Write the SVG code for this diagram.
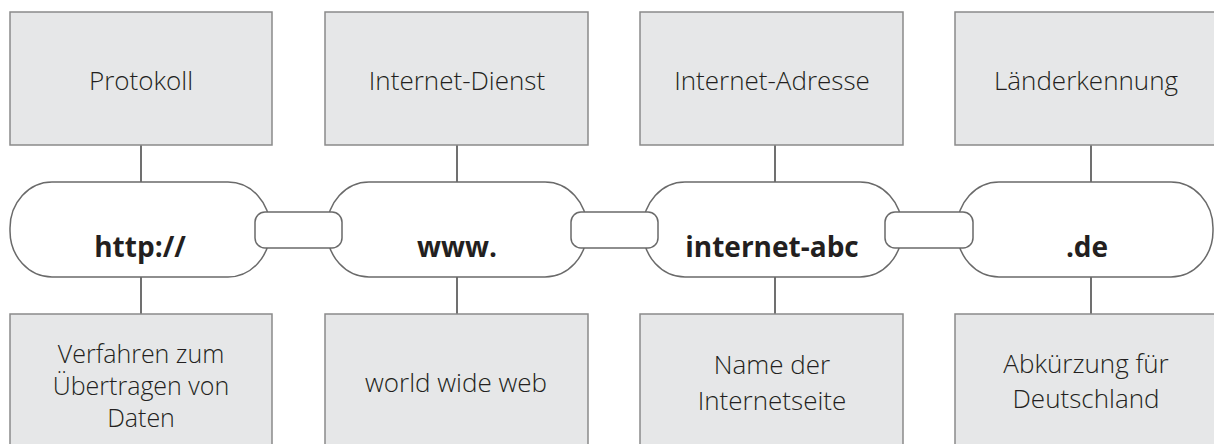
<svg xmlns="http://www.w3.org/2000/svg" width="1214" height="444" viewBox="0 0 1214 444">
<style>
.box{fill:#e6e7e8;stroke:#8a8a8a;stroke-width:1.5}
.pill{fill:#fff;stroke:#6a6a6a;stroke-width:1.5}
.link{fill:#fff;stroke:#6a6a6a;stroke-width:1.5}
.ln{stroke:#707070;stroke-width:2;fill:none}
.t{font-family:"Open Sans","Liberation Sans",sans-serif;font-size:26px;font-weight:300;fill:#231f20;text-anchor:middle}
.s{font-size:25px}
.b{font-family:"Open Sans","Liberation Sans",sans-serif;font-size:28px;font-weight:bold;fill:#231f20;text-anchor:middle}
</style>
<rect width="1214" height="444" fill="#fff"/>
<g id="connectors">
<line class="ln" x1="141" y1="145" x2="141" y2="182"/>
<line class="ln" x1="141" y1="277" x2="141" y2="314"/>
<line class="ln" x1="457" y1="145" x2="457" y2="182"/>
<line class="ln" x1="457" y1="277" x2="457" y2="314"/>
<line class="ln" x1="775" y1="145" x2="775" y2="182"/>
<line class="ln" x1="775" y1="277" x2="775" y2="314"/>
<line class="ln" x1="1091" y1="145" x2="1091" y2="182"/>
<line class="ln" x1="1091" y1="277" x2="1091" y2="314"/>
</g>
<g id="top1"><rect class="box" x="10" y="12" width="262" height="133"/><text class="t" x="141" y="90">Protokoll</text></g>
<g id="top2"><rect class="box" x="325" y="12" width="263" height="133"/><text class="t" x="457" y="90">Internet-Dienst</text></g>
<g id="top3"><rect class="box" x="640" y="12" width="263" height="133"/><text class="t" x="772" y="90">Internet-Adresse</text></g>
<g id="top4"><rect class="box" x="955" y="12" width="270" height="133"/><text class="t" x="1086" y="90">Länderkennung</text></g>
<g id="pill1"><rect class="pill" x="10" y="182" width="260" height="95" rx="42" ry="46"/><text class="b" x="140" y="257">http://</text></g>
<g id="pill2"><rect class="pill" x="327" y="182" width="260" height="95" rx="42" ry="46"/><text class="b" x="457" y="257">www.</text></g>
<g id="pill3"><rect class="pill" x="643" y="182" width="259" height="95" rx="42" ry="46"/><text class="b" x="772" y="257">internet-abc</text></g>
<g id="pill4"><rect class="pill" x="957" y="182" width="256" height="95" rx="42" ry="46"/><text class="b" x="1087" y="257">.de</text></g>
<g id="link1"><rect class="link" x="255" y="212" width="87" height="36" rx="10"/></g>
<g id="link2"><rect class="link" x="571" y="212" width="87" height="36" rx="10"/></g>
<g id="link3"><rect class="link" x="885" y="212" width="88" height="36" rx="10"/></g>
<g id="bot1"><rect class="box" x="10" y="314" width="262" height="140"/><text class="t s" x="141" y="363">Verfahren zum</text><text class="t s" x="141" y="395">Übertragen von</text><text class="t s" x="141" y="427">Daten</text></g>
<g id="bot2"><rect class="box" x="325" y="314" width="263" height="140"/><text class="t" x="456" y="392">world wide web</text></g>
<g id="bot3"><rect class="box" x="640" y="314" width="263" height="140"/><text class="t" x="772" y="374">Name der</text><text class="t" x="772" y="410">Internetseite</text></g>
<g id="bot4"><rect class="box" x="955" y="314" width="270" height="140"/><text class="t" x="1086" y="373">Abkürzung für</text><text class="t" x="1086" y="408">Deutschland</text></g>
</svg>
